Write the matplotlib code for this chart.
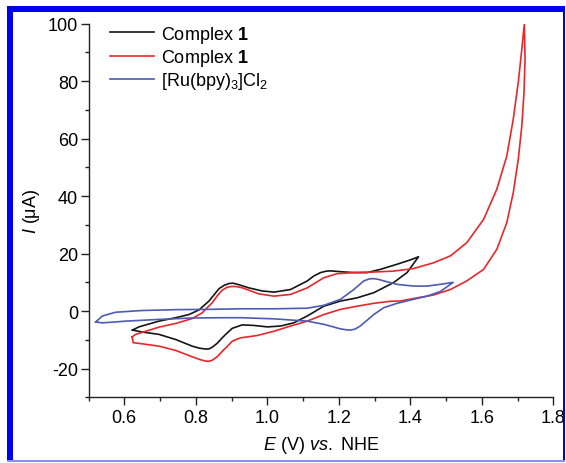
import matplotlib
matplotlib.use("Agg")
import matplotlib.pyplot as plt
from matplotlib.patches import Rectangle
from matplotlib.ticker import MultipleLocator

plt.rcParams['font.family'] = ['Liberation Sans', 'DejaVu Sans']
plt.rcParams['mathtext.fontset'] = 'custom'
plt.rcParams['mathtext.rm'] = 'Liberation Sans'
plt.rcParams['mathtext.it'] = 'Liberation Sans:italic'
plt.rcParams['mathtext.bf'] = 'Liberation Sans:bold'
plt.rcParams['axes.unicode_minus'] = False

# Complex 1 (black) - forward scan then return
black_E = [0.623, 0.641, 0.697, 0.744, 0.781, 0.809, 0.837, 0.852, 0.865, 0.880, 0.893,
           0.905, 0.920, 0.948, 0.986, 1.019, 1.065, 1.112, 1.130, 1.149, 1.165, 1.177,
           1.205, 1.242, 1.279, 1.316, 1.363, 1.400, 1.423,
           1.391, 1.353, 1.298, 1.251, 1.205, 1.158, 1.112, 1.074, 1.037, 1.000,
           0.963, 0.930, 0.902, 0.888, 0.874, 0.860, 0.846, 0.836, 0.827, 0.810,
           0.790, 0.744, 0.697, 0.651, 0.623]
black_I = [-6.6, -5.5, -3.5, -2.3, -1.2, 0.4, 3.5, 5.8, 7.8, 9.0, 9.6,
           9.7, 9.2, 8.1, 7.0, 6.6, 7.5, 10.5, 12.2, 13.4, 13.9, 14.0,
           13.7, 13.4, 13.4, 14.5, 16.3, 17.8, 18.9,
           13.4, 9.9, 6.4, 4.6, 3.5, 1.7, -1.7, -4.1, -5.2, -5.5,
           -5.0, -4.8, -6.0, -7.6, -9.3, -11.2, -12.6, -13.2, -13.2, -12.9,
           -12.2, -9.9, -8.1, -7.3, -6.6]

# Complex 1 (red)
red_E = [0.622, 0.632, 0.697, 0.744, 0.790, 0.818, 0.846, 0.860, 0.874, 0.888, 0.902,
         0.915, 0.930, 0.976, 1.019, 1.065, 1.112, 1.158, 1.195, 1.242, 1.298, 1.353,
         1.409, 1.465, 1.512, 1.558, 1.605, 1.642, 1.670, 1.688, 1.702, 1.712, 1.719,
         1.721, 1.718, 1.712, 1.702, 1.688, 1.670, 1.642, 1.605, 1.558, 1.512,
         1.465, 1.419, 1.372, 1.344, 1.298, 1.251, 1.205, 1.158, 1.112, 1.065,
         1.019, 0.972, 0.926, 0.915, 0.902, 0.888, 0.874, 0.860, 0.846, 0.836, 0.827,
         0.810, 0.790, 0.744, 0.697, 0.651, 0.625, 0.622]
red_I = [-9.0, -8.1, -5.6, -4.3, -2.6, -0.6, 2.9, 5.3, 7.3, 8.3, 8.6,
         8.5, 8.1, 6.0, 5.2, 5.8, 8.1, 11.6, 13.0, 13.4, 13.6, 13.9,
         14.8, 16.8, 19.2, 23.8, 31.9, 42.4, 54.0, 66.8, 79.6, 91.2, 100.0,
         87.7, 76.0, 64.5, 52.8, 41.2, 30.8, 21.5, 14.5, 10.5, 7.5,
         5.6, 4.6, 3.5, 3.4, 2.7, 1.7, 0.6, -1.2, -3.5, -5.2,
         -7.0, -8.5, -9.3, -9.8, -10.5, -12.3, -14.0, -15.9, -17.1, -17.5, -17.4,
         -16.8, -15.9, -13.7, -12.2, -11.4, -11.0, -9.0]

# [Ru(bpy)3]Cl2 (blue)
blue_E = [0.520, 0.539, 0.576, 0.650, 0.744, 0.837, 0.926, 1.019, 1.112, 1.158,
          1.205, 1.242, 1.270, 1.285, 1.298, 1.312, 1.326, 1.363, 1.409, 1.447, 1.484, 1.520,
          1.484, 1.447, 1.409, 1.363, 1.326, 1.298, 1.260, 1.245, 1.233, 1.220, 1.205, 1.158,
          1.112, 1.019, 0.926, 0.883, 0.790, 0.697, 0.604, 0.539, 0.520]
blue_I = [-3.8, -1.7, -0.4, 0.2, 0.5, 0.6, 0.8, 0.8, 1.0, 2.0,
          4.1, 7.5, 10.5, 11.2, 11.3, 11.0, 10.5, 9.3, 8.7, 8.7, 9.3, 10.0,
          6.8, 5.2, 4.1, 2.7, 1.2, -1.2, -5.2, -6.3, -6.6, -6.5, -6.2, -4.6,
          -3.5, -2.7, -2.3, -2.3, -2.4, -2.9, -3.5, -4.1, -3.8]

labels = [r'Complex $\mathbf{1}$', r'Complex $\mathbf{1}$', r'[Ru(bpy)$_3$]Cl$_2$']

W, H = 566, 464
fig = plt.figure(figsize=(W / 100, H / 100), dpi=100)
ax = fig.add_axes([88.5 / W, 1 - 398.3 / H, (553.3 - 88.5) / W, (398.3 - 24.7) / H])

ax.plot(black_E, black_I, color='#151515', lw=1.2, label=labels[0])
ax.plot(red_E, red_I, color='#e8272b', lw=1.2, label=labels[1])
ax.plot(blue_E, blue_I, color='#4d5bb5', lw=1.2, label=labels[2])

ax.set_xlim(0.5, 1.8)
ax.set_ylim(-30, 100)
ax.xaxis.set_minor_locator(MultipleLocator(0.1))
ax.yaxis.set_minor_locator(MultipleLocator(10))
ax.set_xticks([0.6, 0.8, 1.0, 1.2, 1.4, 1.6, 1.8])
ax.set_yticks([-20, 0, 20, 40, 60, 80, 100])
ax.spines['top'].set_visible(False)
ax.spines['right'].set_visible(False)
for s in ['left', 'bottom']:
    ax.spines[s].set_linewidth(1.0)
    ax.spines[s].set_color('#222222')
ax.tick_params(which='major', direction='out', length=5.5, width=1.0, labelsize=13, pad=2, color='#222222')
ax.tick_params(which='minor', direction='out', length=3.2, width=1.0, color='#222222')
ax.tick_params(axis='x', which='major', pad=3)

ax.set_xlabel(r'$\it{E}$ (V) $\it{vs.}$ NHE', fontsize=13, labelpad=6)
ax.set_ylabel(r'$\it{I}$ ($\mathrm{\mu}$A)', fontsize=13, labelpad=4)

ax.legend(loc='upper left', bbox_to_anchor=(0.047, 1.0), frameon=False, fontsize=13,
          handlelength=2.4, handletextpad=0.4, labelspacing=0.12, borderpad=0, borderaxespad=0)

# blue frame around the picture
blue = '#0000f0'
fig.add_artist(Rectangle((7 / W, 1 - 12.5 / H), 557 / W, 5.5 / H, transform=fig.transFigure, color=blue, lw=0))
fig.add_artist(Rectangle((7 / W, 2 / H), 5.5 / W, 455 / H, transform=fig.transFigure, color=blue, lw=0))
fig.add_artist(Rectangle((563.3 / W, 2 / H), 1.5 / W, 455 / H, transform=fig.transFigure, color=blue, lw=0))
fig.add_artist(Rectangle((7 / W, 1.3 / H), 558 / W, 1.3 / H, transform=fig.transFigure, color='#8c8cf5', lw=0))

fig.savefig('out.png', dpi=100)
